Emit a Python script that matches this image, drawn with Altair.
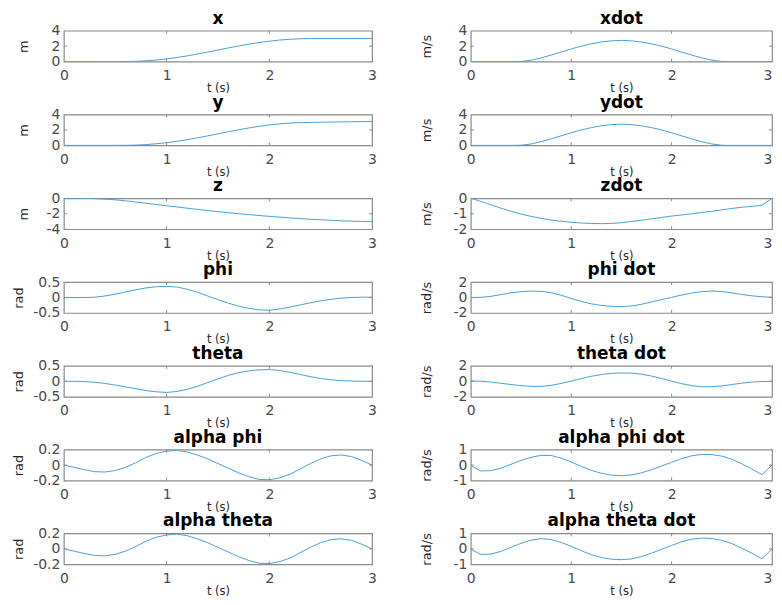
import altair as alt
import pandas as pd

T = [0.0, 0.1, 0.2, 0.3, 0.4, 0.5, 0.6, 0.7, 0.8, 0.9, 1.0, 1.1, 1.2, 1.3, 1.4, 1.5,
     1.6, 1.7, 1.8, 1.9, 2.0, 2.1, 2.2, 2.3, 2.4, 2.5, 2.6, 2.7, 2.8, 2.9, 3.0]

X = [0, 0, 0, 0, 0, 0.0, 0.01, 0.04, 0.11, 0.21, 0.35, 0.53, 0.74, 0.98, 1.23, 1.5,
     1.77, 2.02, 2.26, 2.47, 2.65, 2.79, 2.89, 2.96, 2.99, 3.0, 3.0, 3.0, 3.0, 3.0, 3.0]
Y = [0, 0, 0, 0, 0, 0.0, 0.01, 0.04, 0.11, 0.21, 0.35, 0.53, 0.74, 0.98, 1.23, 1.5,
     1.77, 2.02, 2.26, 2.47, 2.65, 2.79, 2.89, 2.95, 2.98, 3.0, 3.02, 3.04, 3.06, 3.08, 3.1]
Z = [0, 0, -0.01, -0.04, -0.11, -0.2, -0.33, -0.48, -0.64, -0.8, -0.96, -1.12, -1.28,
     -1.44, -1.59, -1.73, -1.86, -1.99, -2.11, -2.23, -2.34, -2.44, -2.54, -2.63, -2.71,
     -2.78, -2.85, -2.91, -2.96, -3.0, -3.03]
PHI = [0, 0, 0, 0.01, 0.05, 0.11, 0.18, 0.25, 0.31, 0.35, 0.36, 0.34, 0.27, 0.17, 0.05,
       -0.07, -0.18, -0.28, -0.35, -0.4, -0.41, -0.37, -0.31, -0.24, -0.17, -0.11, -0.06,
       -0.02, 0, 0.01, 0.01]
THETA = [0, 0, -0.01, -0.03, -0.07, -0.12, -0.18, -0.24, -0.3, -0.34, -0.36, -0.33,
         -0.26, -0.16, -0.04, 0.08, 0.19, 0.28, 0.34, 0.37, 0.38, 0.35, 0.29, 0.22, 0.15,
         0.09, 0.05, 0.02, 0.01, 0, 0]
ALPHA_PHI = [0.0, -0.03, -0.06, -0.085, -0.09, -0.07, -0.03, 0.03, 0.1, 0.15, 0.18, 0.19,
             0.17, 0.13, 0.08, 0.02, -0.04, -0.1, -0.15, -0.185, -0.19, -0.165, -0.12,
             -0.05, 0.02, 0.08, 0.12, 0.13, 0.11, 0.06, 0.0]
ALPHA_THETA = [0.0, -0.03, -0.06, -0.085, -0.09, -0.07, -0.03, 0.03, 0.1, 0.15, 0.18, 0.19,
               0.17, 0.13, 0.08, 0.02, -0.04, -0.1, -0.15, -0.185, -0.19, -0.165, -0.12,
               -0.05, 0.02, 0.08, 0.12, 0.13, 0.11, 0.06, 0.0]

XDOT = [0, 0, 0, 0, 0, 0.02, 0.19, 0.48, 0.85, 1.24, 1.64, 2.0, 2.3, 2.54, 2.69, 2.75,
        2.69, 2.54, 2.3, 2.0, 1.64, 1.24, 0.85, 0.48, 0.19, 0.02, 0, 0, 0, 0, 0]
YDOT = [0, 0, 0, 0, 0, 0.02, 0.19, 0.48, 0.85, 1.24, 1.64, 2.0, 2.3, 2.54, 2.69, 2.75,
        2.69, 2.54, 2.3, 2.0, 1.64, 1.24, 0.85, 0.48, 0.19, 0.02, 0, 0, 0, 0, 0]
ZDOT = [0, -0.2, -0.42, -0.64, -0.84, -1.02, -1.17, -1.3, -1.41, -1.49, -1.55, -1.6, -1.63,
        -1.64, -1.63, -1.58, -1.5, -1.42, -1.33, -1.24, -1.15, -1.08, -1.0, -0.92, -0.84,
        -0.75, -0.66, -0.58, -0.52, -0.45, 0]
PHI_DOT = [0, 0.02, 0.15, 0.38, 0.6, 0.76, 0.83, 0.8, 0.62, 0.3, -0.12, -0.5, -0.82, -1.02,
           -1.14, -1.18, -1.1, -0.88, -0.58, -0.28, 0.02, 0.32, 0.58, 0.76, 0.83, 0.78, 0.6,
           0.4, 0.22, 0.1, 0.03]
THETA_DOT = [0.05, 0, -0.1, -0.25, -0.42, -0.56, -0.65, -0.66, -0.52, -0.28, 0.02, 0.35,
             0.65, 0.87, 1.02, 1.08, 1.05, 0.92, 0.68, 0.36, 0.02, -0.3, -0.56, -0.7, -0.7,
             -0.6, -0.42, -0.24, -0.1, -0.03, 0]
ALPHA_PHI_DOT = [-0.02, -0.38, -0.36, -0.2, 0.05, 0.3, 0.5, 0.63, 0.62, 0.45, 0.2, -0.08,
                 -0.34, -0.53, -0.65, -0.68, -0.64, -0.5, -0.3, -0.06, 0.18, 0.42, 0.6,
                 0.69, 0.68, 0.58, 0.38, 0.08, -0.25, -0.62, 0.0]
ALPHA_THETA_DOT = [-0.02, -0.36, -0.34, -0.16, 0.1, 0.36, 0.56, 0.66, 0.6, 0.42, 0.16,
                   -0.12, -0.38, -0.56, -0.67, -0.7, -0.65, -0.5, -0.28, -0.03, 0.22, 0.46,
                   0.63, 0.7, 0.67, 0.55, 0.34, 0.04, -0.28, -0.64, 0.0]

TITLES = ["x", "xdot", "y", "ydot", "z", "zdot", "phi", "phi dot", "theta", "theta dot",
          "alpha phi", "alpha phi dot", "alpha theta", "alpha theta dot"]
SERIES = [X, XDOT, Y, YDOT, Z, ZDOT, PHI, PHI_DOT, THETA, THETA_DOT,
          ALPHA_PHI, ALPHA_PHI_DOT, ALPHA_THETA, ALPHA_THETA_DOT]
UNITS = ["m", "m/s", "m", "m/s", "m", "m/s", "rad", "rad/s", "rad", "rad/s",
         "rad", "rad/s", "rad", "rad/s"]
Y_TICKS = [[0, 2, 4], [0, 2, 4], [0, 2, 4], [0, 2, 4], [-4, -2, 0], [-2, -1, 0],
           [-0.5, 0, 0.5], [-2, 0, 2], [-0.5, 0, 0.5], [-2, 0, 2],
           [-0.2, 0, 0.2], [-1, 0, 1], [-0.2, 0, 0.2], [-1, 0, 1]]
X_TICKS = [0, 1, 2, 3]

W_LEFT, W_RIGHT, H = 309, 302, 31
LINE_COLOR = "#4aa0da"
FRAME = "#8a8a8a"


def panel(i):
    unit = UNITS[i]
    ticks = Y_TICKS[i]
    left = i % 2 == 0
    W = W_LEFT if left else W_RIGHT
    if left:
        tx = -40 if unit == "m" else -45
        xaxis = alt.Axis(values=X_TICKS, title="t (s)")
    else:
        tx = -44
        xaxis = alt.Axis(values=X_TICKS, title="t (s)",
                         labelAlign=alt.condition("datum.value == 3",
                                                  alt.value("right"), alt.value("center")))
    df = pd.DataFrame({"t": T, "v": SERIES[i]})
    x = alt.X("t:Q", scale=alt.Scale(domain=[0, 3], nice=False, zero=False), axis=xaxis)
    y = alt.Y("v:Q", scale=alt.Scale(domain=[ticks[0], ticks[-1]], nice=False, zero=False),
              axis=alt.Axis(values=ticks, title=unit, titleX=tx,
                            labelExpr="'' + datum.value"))
    line = alt.Chart(df).mark_line(color=LINE_COLOR, strokeWidth=1, clip=True).encode(x=x, y=y)
    xt = pd.DataFrame({"t": X_TICKS[1:3]})
    yt = pd.DataFrame({"v": [ticks[1]]})
    top = alt.Chart(xt).mark_rule(color=FRAME).encode(x=x, y=alt.value(0), y2=alt.value(3))
    bot = alt.Chart(xt).mark_rule(color=FRAME).encode(x=x, y=alt.value(H), y2=alt.value(H - 3))
    lft = alt.Chart(yt).mark_rule(color=FRAME).encode(y=y, x=alt.value(0), x2=alt.value(3))
    rgt = alt.Chart(yt).mark_rule(color=FRAME).encode(y=y, x=alt.value(W), x2=alt.value(W - 3))
    return alt.layer(line, top, bot, lft, rgt).properties(
        width=W, height=H,
        title=alt.TitleParams(TITLES[i], fontSize=17, fontWeight="bold",
                              font="DejaVu Sans", color="black", offset=-4,
                              anchor="middle", frame="group"))


charts = [panel(i) for i in range(14)]
chart = alt.concat(*charts, columns=2, spacing={"row": 53, "column": 99},
                   bounds="flush").properties(
    padding={"left": 4, "top": 0, "right": 0, "bottom": 0}
).configure_view(stroke=FRAME, strokeWidth=1.2).configure_axis(
    grid=False, domain=False, ticks=False,
    labelFont="DejaVu Sans", labelFontSize=14, labelColor="#4a4a4a",
    labelFlush=False, labelOverlap=False, labelBound=False,
    titleFont="DejaVu Sans", titleFontWeight="normal", titleColor="#262626",
).configure_axisX(
    labelPadding=7, titlePadding=0, titleFontSize=11.5
).configure_axisY(
    labelPadding=4, titleFontSize=13, titleBaseline="middle"
)

chart.save("out.html", embed_options={"renderer": "svg", "actions": False})
